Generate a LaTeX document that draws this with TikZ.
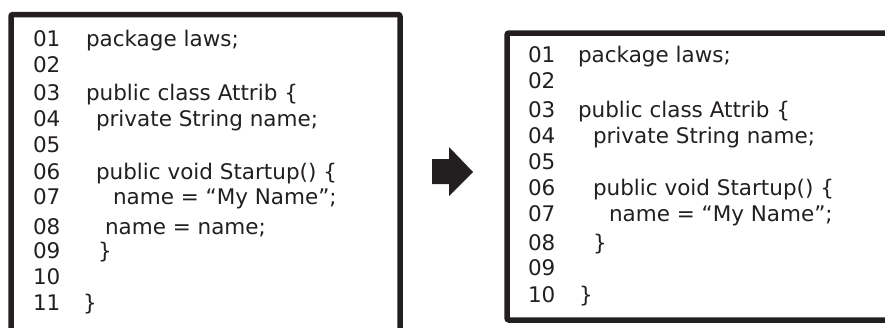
\documentclass[tikz,border=0pt]{standalone}
\usepackage{fontspec}
\setmainfont{DejaVu Sans}
\definecolor{ink}{HTML}{231F20}
\begin{document}
\begin{tikzpicture}[x=1pt,y=-1pt,
  codetext/.style={anchor=base west,inner sep=0pt,outer sep=0pt,text=ink,font=\fontsize{21.5}{24}\selectfont},
  frame/.style={draw=ink,line width=5.5pt,rounded corners=2pt},
  bigarrow/.style={fill=ink}]
\useasboundingbox (0,0) rectangle (885,327);
% left box (bottom cut off)
\draw[frame] (11,340) -- (11,14.5) -- (400,14.5) -- (400,340);
% right box (right side cut off)
\draw[frame] (895,33) -- (507,33) -- (507,320) -- (895,320);
% arrow
\fill[bigarrow] (432,159) -- (449,159) -- (449,147) -- (473,172) -- (449,196) -- (449,184) -- (432,184) -- cycle;
% left code
\foreach \n/\y in {01/46.5,02/72.5,03/100,04/126,05/152,06/179,07/204,08/234,09/258,10/284,11/310}
  \node[codetext] (ln\n) at (33,\y) {\n};
\node[codetext] (lc01) at (86,46.5) {package laws;};
\node[codetext] (lc03) at (86,100) {public class Attrib \{};
\node[codetext] (lc04) at (96,126) {private String name;};
\node[codetext] (lc06) at (96,179) {public void Startup() \{};
\node[codetext] (lc07) at (113,204) {name = “My Name”;};
\node[codetext] (lc08) at (105,234) {name = name;};
\node[codetext] (lc09) at (98,258) {\}};
\node[codetext] (lc11) at (83,310) {\}};
% right code
\foreach \n/\y in {01/62,02/88,03/117,04/143,05/169,06/195,07/221,08/250,09/275,10/302}
  \node[codetext] (rn\n) at (528,\y) {\n};
\node[codetext] (rc01) at (578,62) {package laws;};
\node[codetext] (rc03) at (578,117) {public class Attrib \{};
\node[codetext] (rc04) at (593,143) {private String name;};
\node[codetext] (rc06) at (593,195) {public void Startup() \{};
\node[codetext] (rc07) at (609,221) {name = “My Name”;};
\node[codetext] (rc08) at (593,250) {\}};
\node[codetext] (rc10) at (579,302) {\}};
\end{tikzpicture}
\end{document}
